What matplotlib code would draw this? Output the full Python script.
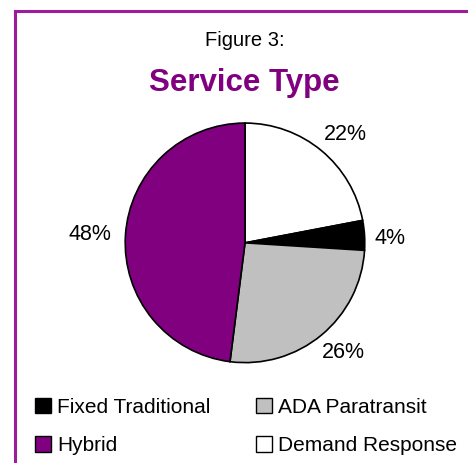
import matplotlib.pyplot as plt
from matplotlib.patches import Patch
from matplotlib.lines import Line2D

plt.rcParams['font.family'] = ['Liberation Sans', 'DejaVu Sans']

# 데이터 (위쪽부터 시계방향)
labels = ['Demand Response', 'Fixed Traditional', 'ADA Paratransit', 'Hybrid']
values = [22, 4, 26, 48]
colors = ['#ffffff', '#000000', '#c0c0c0', '#800080']
legend_order = ['Fixed Traditional', 'Hybrid', 'ADA Paratransit', 'Demand Response']

fig = plt.figure(figsize=(4.68, 4.63), dpi=100)

# 보라색 테두리 (왼쪽, 위쪽만 보임)
border = '#9c1c9c'
fig.add_artist(Line2D([0.031, 0.031], [0, 0.976], color=border, lw=2.2, transform=fig.transFigure))
fig.add_artist(Line2D([0.031, 1.0], [0.976, 0.976], color=border, lw=2.2, transform=fig.transFigure))

fig.text(0.524, 0.913, 'Figure 3:', ha='center', va='center', fontsize=14.5)
fig.text(0.521, 0.821, 'Service Type', ha='center', va='center', fontsize=22.5,
         fontweight='bold', color='#800080')

ax = fig.add_axes([0.265, 0.214, 0.517, 0.523])
wedges, texts = ax.pie(values, colors=colors, startangle=90, counterclock=False,
                       wedgeprops=dict(edgecolor='black', linewidth=1.2))
ax.set_xlim(-1.01, 1.01)
ax.set_ylim(-1.01, 1.01)
ax.set_aspect('equal')

label_pos = [(345, 135), (390, 238), (343, 352), (90, 234)]
for v, (px, py) in zip(values, label_pos):
    fig.text(px / 468, 1 - py / 463, f'{v}%', ha='center', va='center', fontsize=15.5)

handles = {l: Patch(facecolor=c, edgecolor='black', linewidth=1) for l, c in zip(labels, colors)}
fig.legend([handles[l] for l in legend_order], legend_order, ncol=2, frameon=False,
           loc='lower left', bbox_to_anchor=(0.035, -0.024), fontsize=15,
           handlelength=0.75, handleheight=0.75, handletextpad=0.3,
           columnspacing=2.2, labelspacing=0.95)

fig.savefig('out.png', dpi=100)
